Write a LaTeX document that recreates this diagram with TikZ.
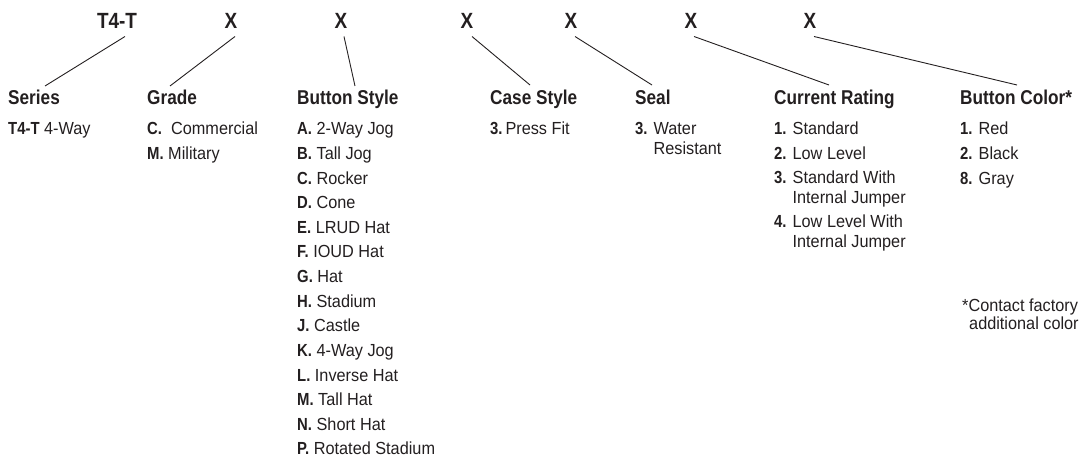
\documentclass[tikz,border=0pt]{standalone}
\usepackage{fontspec}
\setmainfont[FakeStretch=0.93]{Liberation Sans}
\newfontfamily\freg[FakeStretch=0.93]{Liberation Sans}
\newfontfamily\fbold[FakeStretch=0.85]{Liberation Sans}
\newfontfamily\fhead[FakeStretch=0.86]{Liberation Sans}
\definecolor{ink}{HTML}{231F20}
\newcommand\pfx[1]{{\fbold\bfseries #1}}
\tikzset{
  toplbl/.style={font=\fhead\bfseries\fontsize{22}{24}\selectfont, anchor=base, inner sep=0pt, text=ink},
  headlbl/.style={font=\fhead\bfseries\fontsize{20}{22}\selectfont, anchor=base west, inner sep=0pt, text=ink},
  itm/.style={font=\freg\fontsize{17.5}{19.5}\selectfont, anchor=base west, inner sep=0pt, text=ink},
  conn/.style={draw=ink, line width=0.9pt}
}
\begin{document}
\begin{tikzpicture}[x=1pt,y=1pt]
\useasboundingbox (0,0) rectangle (1084,-462);
% top code
\node[toplbl] (t0) at (117,-29) {T4-T};
\node[toplbl] (t1) at (231,-29) {X};
\node[toplbl] (t2) at (341,-29) {X};
\node[toplbl] (t3) at (467,-29) {X};
\node[toplbl] (t4) at (571,-29) {X};
\node[toplbl] (t5) at (691,-29) {X};
\node[toplbl] (t6) at (810,-29) {X};
% headings
\node[headlbl] (h0) at (8,-105) {Series};
\node[headlbl] (h1) at (147,-105) {Grade};
\node[headlbl] (h2) at (297,-105) {Button Style};
\node[headlbl] (h3) at (490,-105) {Case Style};
\node[headlbl] (h4) at (635,-105) {Seal};
\node[headlbl] (h5) at (774,-105) {Current Rating};
\node[headlbl] (h6) at (960,-105) {Button Color*};
% connectors
\draw[conn] ([shift={(8,-7.5)}]t0.base) -- ([shift={(37,19)}]h0.base west);
\draw[conn] ([shift={(4,-7.5)}]t1.base) -- ([shift={(23,19)}]h1.base west);
\draw[conn] ([shift={(3,-7.5)}]t2.base) -- ([shift={(58,19)}]h2.base west);
\draw[conn] ([shift={(5,-7.5)}]t3.base) -- ([shift={(40,20)}]h3.base west);
\draw[conn] ([shift={(4,-7.5)}]t4.base) -- ([shift={(17,20)}]h4.base west);
\draw[conn] ([shift={(3,-7.5)}]t5.base) -- ([shift={(55,20)}]h5.base west);
\draw[conn] ([shift={(4,-7.5)}]t6.base) -- ([shift={(57,20)}]h6.base west);
% Series
\node[itm] (s0) at (8,-135) {\pfx{T4-T} 4-Way};
% Grade
\node[itm] (g0) at (147,-135) {\pfx{C.}\ \ Commercial};
\node[itm] (g1) at (147,-159.6) {\pfx{M.} Military};
% Button Style
\foreach \pre/\txt [count=\i from 0] in {A./2-Way Jog, B./Tall Jog, C./Rocker, D./Cone, E./LRUD Hat, F./IOUD Hat, G./Hat, H./Stadium, J./Castle, K./4-Way Jog, L./Inverse Hat, M./Tall Hat, N./Short Hat, P./Rotated Stadium}
  \node[itm] (b\i) at (297,{-135-24.6*\i}) {\pfx{\pre} \txt};
% Case Style
\node[itm] (c0) at (490,-135) {\pfx{3.}\,Press Fit};
% Seal
\node[itm] (e0) at (635,-135) {\pfx{3.} Water};
\node[itm] (e1) at (635,-154.5) {\hphantom{\pfx{3.} }Resistant};
% Current Rating
\node[itm] (r0) at (774,-135) {\pfx{1.} Standard};
\node[itm] (r1) at (774,-159.5) {\pfx{2.} Low Level};
\node[itm] (r2) at (774,-184) {\pfx{3.} Standard With};
\node[itm] (r3) at (774,-203.5) {\hphantom{\pfx{3.} }Internal Jumper};
\node[itm] (r4) at (774,-228) {\pfx{4.} Low Level With};
\node[itm] (r5) at (774,-247.5) {\hphantom{\pfx{4.} }Internal Jumper};
% Button Color
\node[itm] (k0) at (960,-135) {\pfx{1.} Red};
\node[itm] (k1) at (960,-159.6) {\pfx{2.} Black};
\node[itm] (k2) at (960,-184.2) {\pfx{8.} Gray};
% footnote
\node[itm] (f0) at (962,-312) {*Contact factory};
\node[itm] (f1) at (969,-330) {additional color};
\end{tikzpicture}
\end{document}
